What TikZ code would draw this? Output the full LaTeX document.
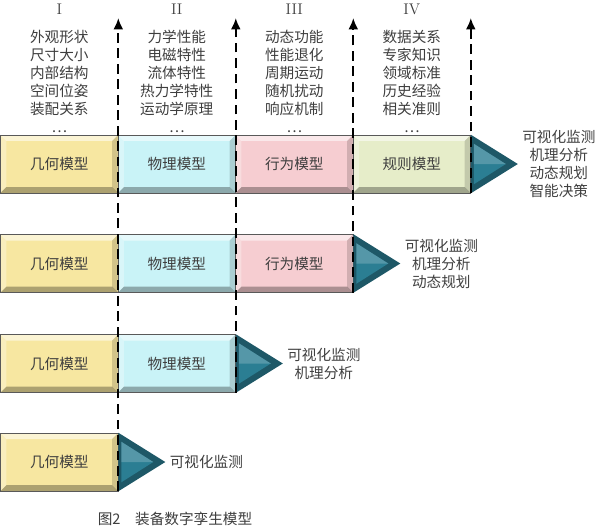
\documentclass[tikz,border=0pt]{standalone}
\usepackage{fontspec}
\newfontfamily\cjk{Noto Sans CJK SC}
\usetikzlibrary{arrows.meta,positioning,calc}
\definecolor{geoyellow}{RGB}{247,231,161}
\definecolor{phycyan}{RGB}{201,243,247}
\definecolor{behpink}{RGB}{246,205,209}
\definecolor{rulegreen}{RGB}{230,237,201}
\definecolor{outteal}{RGB}{43,126,147}
\definecolor{txtgray}{RGB}{62,62,62}

\begin{document}
\begin{tikzpicture}[x=0.025cm, y=-0.025cm,
    every node/.style={font=\cjk\fontsize{10.4}{12.8}\selectfont, text=txtgray},
    modelbox/.style={draw=black!65, fill=#1, minimum width=2.9375cm, minimum height=1.45cm, inner sep=0pt,
      path picture={
        \coordinate (nw) at (path picture bounding box.north west);
        \coordinate (ne) at (path picture bounding box.north east);
        \coordinate (sw) at (path picture bounding box.south west);
        \coordinate (se) at (path picture bounding box.south east);
        \fill[white, opacity=.55] (nw) -- (ne) -- ([shift={(-.15cm,-.15cm)}]ne) -- ([shift={(.15cm,-.15cm)}]nw) -- cycle;
        \fill[white, opacity=.3] (nw) -- ([shift={(.15cm,-.15cm)}]nw) -- ([shift={(.15cm,.15cm)}]sw) -- (sw) -- cycle;
        \fill[black, opacity=.3] (sw) -- ([shift={(.15cm,.15cm)}]sw) -- ([shift={(-.15cm,.15cm)}]se) -- (se) -- cycle;
        \fill[black, opacity=.15] (se) -- ([shift={(-.15cm,.15cm)}]se) -- ([shift={(-.15cm,-.15cm)}]ne) -- (ne) -- cycle;
      }},
    coltext/.style={align=center, inner sep=0pt, font=\cjk\fontsize{10.4}{12.8}\selectfont},
    outlabel/.style={align=center, inner sep=0pt, font=\cjk\fontsize{10.4}{12.8}\selectfont, text=black!75},
    numeral/.style={inner sep=0pt, font=\rmfamily\fontsize{11}{12}\selectfont},
    guide/.style={line width=1.4pt, dash pattern=on 7pt off 4pt, -{Latex[length=8pt,width=7pt]}}]
    \fill[white] (0,0) rectangle (596,527);
    \useasboundingbox (0,0) rectangle (596,527);

    \node[modelbox=geoyellow] (g1) at (59.25,164) {几何模型};
    \node[modelbox=phycyan]   (p1) at (176.75,164) {物理模型};
    \node[modelbox=behpink]   (b1) at (294.25,164) {行为模型};
    \node[modelbox=rulegreen] (r1) at (411.75,164) {规则模型};

    \node[modelbox=geoyellow] (g2) at (59.25,263.5) {几何模型};
    \node[modelbox=phycyan]   (p2) at (176.75,263.5) {物理模型};
    \node[modelbox=behpink]   (b2) at (294.25,263.5) {行为模型};

    \node[modelbox=geoyellow] (g3) at (59.25,363.5) {几何模型};
    \node[modelbox=phycyan]   (p3) at (176.75,363.5) {物理模型};

    \node[modelbox=geoyellow] (g4) at (59.25,462) {几何模型};

    \foreach \n in {r1,b2,p3,g4} {
        \fill[outteal!70!black] (\n.north east) -- ($(\n.east)+(47,0)$) coordinate (tip\n) -- (\n.south east) -- cycle;
        \fill[outteal] ($(\n.north east)+(3,9)$) -- ($(\n.east)+(35,0)$) -- ($(\n.south east)+(3,-9)$) -- cycle;
        \fill[white, opacity=.2] ($(\n.north east)+(3,9)$) -- ($(\n.east)+(35,0)$) -- ($(\n.east)+(3,0)$) -- cycle;
    }

    \node[outlabel, right=3pt of tipr1] (l1) {可视化监测\\机理分析\\动态规划\\智能决策};
    \node[outlabel, right=3pt of tipb2] (l2) {可视化监测\\机理分析\\动态规划};
    \node[outlabel, right=3pt of tipp3] (l3) {可视化监测\\机理分析};
    \node[outlabel, right=3pt of tipg4] (l4) {可视化监测};

    \node[numeral] (n1) at (g1.north |- 0,9) {I};
    \node[numeral] (n2) at (p1.north |- 0,9) {II};
    \node[numeral] (n3) at (b1.north |- 0,9) {III};
    \node[numeral] (n4) at (r1.north |- 0,9) {IV};

    \node[coltext] (c1) at (g1.north |- 0,81.5) {外观形状\\尺寸大小\\内部结构\\空间位姿\\装配关系\\…};
    \node[coltext] (c2) at (p1.north |- 0,81.5) {力学性能\\电磁特性\\流体特性\\热力学特性\\运动学原理\\…};
    \node[coltext] (c3) at (b1.north |- 0,81.5) {动态功能\\性能退化\\周期运动\\随机扰动\\响应机制\\…};
    \node[coltext] (c4) at (r1.north |- 0,81.5) {数据关系\\专家知识\\领域标准\\历史经验\\相关准则\\…};

    \foreach \lo/\hi in {g4/g1,p3/p1,b2/b1,r1/r1}
        \draw[guide] (\lo.south east) -- (\hi.north east |- 0,18);

    \node (cap) at (175,519) {图2\quad 装备数字孪生模型};
\end{tikzpicture}
\end{document}
